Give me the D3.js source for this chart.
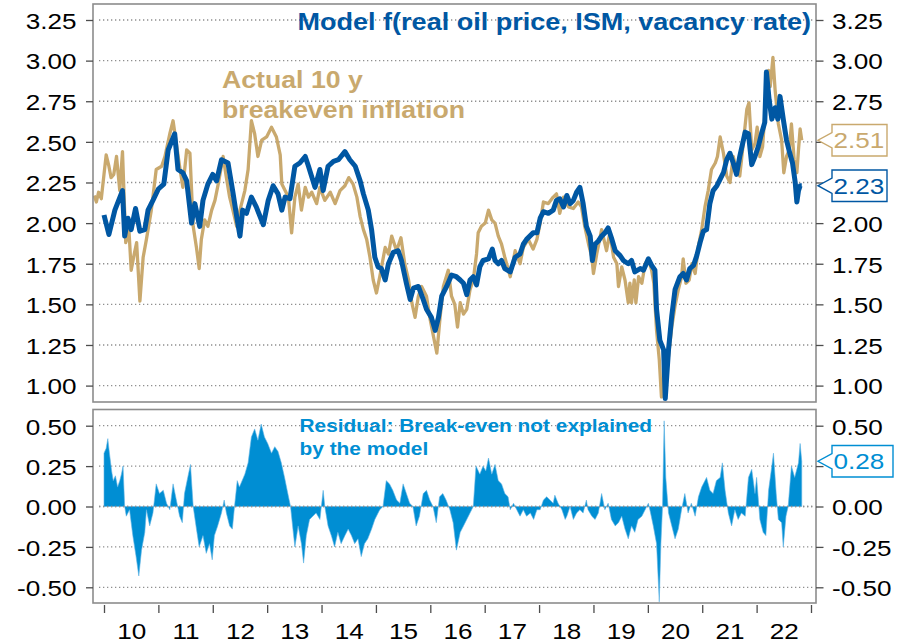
<!DOCTYPE html>
<html>
<head>
<meta charset="utf-8">
<script src="https://cdn.jsdelivr.net/npm/d3@7"></script>
<style>
  html, body { margin: 0; padding: 0; background: #fff; }
  svg { display: block; }
</style>
</head>
<body>
<svg id="chart" width="912" height="643"></svg>
<script>
// ---- Data: [decimal year, value] ----
const breakeven = [
  [2009.82,2.17],[2009.86,2.13],[2009.90,2.19],[2009.95,2.15],[2010.00,2.30],[2010.04,2.42],[2010.09,2.35],
  [2010.13,2.28],[2010.18,2.30],[2010.23,2.41],[2010.29,2.20],[2010.34,2.44],[2010.40,1.88],[2010.46,1.95],
  [2010.50,1.71],[2010.55,1.80],[2010.60,1.88],[2010.66,1.52],[2010.72,1.79],[2010.78,1.90],[2010.87,2.08],
  [2010.96,2.33],[2011.06,2.35],[2011.12,2.41],[2011.21,2.55],[2011.27,2.63],[2011.33,2.49],[2011.39,2.35],
  [2011.45,2.22],[2011.52,2.45],[2011.58,2.43],[2011.64,1.98],[2011.70,1.85],[2011.75,1.72],[2011.79,1.90],
  [2011.85,2.02],[2011.91,1.98],[2011.98,2.08],[2012.04,2.14],[2012.10,2.24],[2012.19,2.41],[2012.25,2.28],
  [2012.31,2.16],[2012.37,2.08],[2012.44,1.98],[2012.50,2.08],[2012.59,2.20],[2012.65,2.33],[2012.71,2.63],
  [2012.77,2.55],[2012.83,2.41],[2012.90,2.51],[2012.99,2.53],[2013.08,2.59],[2013.17,2.53],[2013.24,2.42],
  [2013.27,2.24],[2013.33,2.20],[2013.39,2.16],[2013.45,1.94],[2013.51,2.16],[2013.57,2.24],[2013.63,2.08],
  [2013.70,2.22],[2013.76,2.16],[2013.82,2.19],[2013.91,2.12],[2013.97,2.22],[2014.06,2.14],[2014.16,2.19],
  [2014.25,2.12],[2014.34,2.20],[2014.43,2.23],[2014.50,2.28],[2014.58,2.24],[2014.65,2.16],[2014.71,2.04],
  [2014.77,1.96],[2014.83,1.90],[2014.89,1.79],[2014.95,1.65],[2015.01,1.57],[2015.07,1.67],[2015.17,1.85],
  [2015.23,1.81],[2015.29,1.92],[2015.38,1.83],[2015.46,1.91],[2015.53,1.75],[2015.60,1.65],[2015.66,1.51],
  [2015.72,1.42],[2015.78,1.55],[2015.84,1.61],[2015.93,1.55],[2015.99,1.42],[2016.06,1.30],[2016.12,1.20],
  [2016.18,1.42],[2016.24,1.61],[2016.33,1.71],[2016.39,1.55],[2016.45,1.50],[2016.50,1.36],[2016.55,1.51],
  [2016.61,1.44],[2016.67,1.47],[2016.73,1.59],[2016.79,1.65],[2016.85,1.81],[2016.88,1.94],[2016.94,1.98],
  [2017.01,2.00],[2017.07,2.08],[2017.13,2.02],[2017.19,2.00],[2017.25,1.92],[2017.31,1.87],[2017.37,1.79],
  [2017.47,1.67],[2017.56,1.83],[2017.65,1.75],[2017.71,1.85],[2017.80,1.90],[2017.89,1.84],[2017.96,1.90],
  [2018.02,2.00],[2018.08,2.13],[2018.17,2.12],[2018.26,2.16],[2018.32,2.18],[2018.38,2.06],[2018.45,2.16],
  [2018.54,2.10],[2018.63,2.09],[2018.72,2.13],[2018.78,2.10],[2018.84,1.98],[2018.91,1.87],[2018.97,1.79],
  [2019.00,1.69],[2019.06,1.81],[2019.15,1.96],[2019.24,1.83],[2019.30,1.94],[2019.37,1.79],[2019.43,1.75],
  [2019.46,1.61],[2019.52,1.73],[2019.58,1.65],[2019.64,1.51],[2019.67,1.63],[2019.70,1.51],[2019.75,1.65],
  [2019.78,1.51],[2019.83,1.67],[2019.89,1.63],[2019.95,1.75],[2020.01,1.78],[2020.07,1.71],[2020.11,1.63],
  [2020.16,1.34],[2020.21,1.16],[2020.25,0.93],[2020.32,1.10],[2020.38,1.18],[2020.44,1.36],[2020.50,1.49],
  [2020.56,1.59],[2020.62,1.67],[2020.65,1.78],[2020.70,1.63],[2020.76,1.65],[2020.81,1.75],[2020.87,1.69],
  [2020.93,1.86],[2020.99,1.96],[2021.05,2.10],[2021.11,2.20],[2021.17,2.33],[2021.24,2.37],[2021.28,2.41],
  [2021.33,2.53],[2021.39,2.43],[2021.45,2.29],[2021.51,2.25],[2021.57,2.41],[2021.63,2.33],[2021.69,2.29],
  [2021.76,2.51],[2021.82,2.70],[2021.86,2.74],[2021.91,2.45],[2021.97,2.49],[2022.01,2.59],[2022.06,2.41],
  [2022.11,2.47],[2022.15,2.66],[2022.22,2.94],[2022.25,2.84],[2022.30,3.02],[2022.34,2.82],[2022.40,2.61],
  [2022.46,2.51],[2022.50,2.31],[2022.55,2.41],[2022.60,2.45],[2022.64,2.61],[2022.69,2.39],[2022.74,2.31],
  [2022.77,2.45],[2022.80,2.58],[2022.83,2.51]
];

const model = [
  [2010.00,2.05],[2010.09,1.93],[2010.20,2.08],[2010.34,2.20],[2010.38,1.92],[2010.44,2.03],[2010.50,1.96],
  [2010.58,2.09],[2010.66,1.95],[2010.75,1.96],[2010.81,2.08],[2010.90,2.14],[2011.00,2.21],[2011.10,2.24],
  [2011.18,2.45],[2011.30,2.55],[2011.36,2.33],[2011.45,2.31],[2011.52,2.26],[2011.61,2.00],[2011.67,2.12],
  [2011.76,1.98],[2011.82,2.14],[2011.91,2.24],[2012.00,2.30],[2012.07,2.26],[2012.16,2.39],[2012.28,2.37],
  [2012.37,2.19],[2012.44,2.04],[2012.50,1.92],[2012.55,2.08],[2012.62,2.06],[2012.71,2.16],[2012.80,2.10],
  [2012.93,1.99],[2013.02,2.14],[2013.11,2.23],[2013.20,2.18],[2013.27,2.08],[2013.33,2.16],[2013.42,2.15],
  [2013.51,2.35],[2013.60,2.37],[2013.70,2.41],[2013.76,2.35],[2013.88,2.22],[2013.97,2.33],[2014.03,2.20],
  [2014.12,2.35],[2014.22,2.38],[2014.31,2.39],[2014.43,2.44],[2014.52,2.39],[2014.62,2.35],[2014.71,2.26],
  [2014.77,2.18],[2014.86,2.08],[2014.92,1.96],[2014.98,1.79],[2015.04,1.73],[2015.10,1.72],[2015.17,1.65],
  [2015.23,1.75],[2015.32,1.82],[2015.41,1.83],[2015.47,1.77],[2015.56,1.63],[2015.63,1.53],[2015.69,1.60],
  [2015.78,1.61],[2015.87,1.53],[2015.93,1.47],[2016.02,1.42],[2016.09,1.34],[2016.15,1.42],[2016.21,1.55],
  [2016.30,1.61],[2016.39,1.68],[2016.48,1.67],[2016.55,1.65],[2016.61,1.63],[2016.67,1.56],[2016.73,1.65],
  [2016.79,1.67],[2016.85,1.62],[2016.91,1.73],[2016.97,1.77],[2017.07,1.78],[2017.14,1.84],[2017.19,1.77],
  [2017.25,1.75],[2017.31,1.77],[2017.37,1.72],[2017.47,1.70],[2017.56,1.79],[2017.65,1.81],[2017.71,1.87],
  [2017.77,1.90],[2017.83,1.92],[2017.89,1.94],[2017.96,1.94],[2018.02,2.03],[2018.08,2.07],[2018.17,2.06],
  [2018.26,2.08],[2018.32,2.14],[2018.38,2.15],[2018.45,2.10],[2018.51,2.17],[2018.57,2.12],[2018.63,2.14],
  [2018.69,2.19],[2018.75,2.22],[2018.81,2.12],[2018.87,1.98],[2018.94,1.92],[2018.98,1.77],[2019.03,1.87],
  [2019.09,1.89],[2019.15,1.92],[2019.21,1.94],[2019.27,1.97],[2019.33,1.91],[2019.40,1.83],[2019.49,1.80],
  [2019.55,1.77],[2019.64,1.75],[2019.70,1.77],[2019.76,1.70],[2019.86,1.72],[2019.92,1.71],[2020.01,1.78],
  [2020.07,1.74],[2020.13,1.71],[2020.16,1.47],[2020.22,1.28],[2020.29,1.22],[2020.32,0.92],[2020.38,1.22],
  [2020.44,1.43],[2020.50,1.59],[2020.59,1.67],[2020.65,1.69],[2020.71,1.65],[2020.77,1.72],[2020.84,1.74],
  [2020.90,1.80],[2020.96,1.88],[2021.02,1.95],[2021.08,1.96],[2021.14,2.12],[2021.20,2.20],[2021.27,2.23],
  [2021.33,2.27],[2021.39,2.31],[2021.45,2.39],[2021.51,2.43],[2021.57,2.37],[2021.63,2.30],[2021.69,2.41],
  [2021.79,2.56],[2021.85,2.55],[2021.91,2.36],[2021.97,2.41],[2022.03,2.47],[2022.09,2.55],[2022.15,2.62],
  [2022.18,2.93],[2022.23,2.76],[2022.28,2.64],[2022.34,2.71],[2022.39,2.64],[2022.43,2.78],[2022.49,2.64],
  [2022.55,2.51],[2022.61,2.43],[2022.66,2.37],[2022.71,2.25],[2022.74,2.13],[2022.77,2.20],[2022.80,2.23],
  [2022.83,2.23]
];

const residual = [
  [2010.00,0.33],[2010.04,0.36],[2010.07,0.42],[2010.10,0.33],[2010.14,0.22],[2010.17,0.16],[2010.21,0.19],
  [2010.25,0.12],[2010.29,0.16],[2010.32,0.20],[2010.35,0.25],[2010.38,0.00],[2010.41,-0.06],[2010.47,-0.02],
  [2010.53,-0.18],[2010.59,-0.31],[2010.64,-0.43],[2010.69,-0.27],[2010.75,-0.16],[2010.78,-0.02],[2010.84,-0.12],
  [2010.90,-0.04],[2010.96,0.14],[2011.02,0.08],[2011.09,0.10],[2011.15,0.02],[2011.21,-0.02],[2011.27,0.14],
  [2011.33,0.04],[2011.39,-0.06],[2011.44,-0.10],[2011.48,0.08],[2011.54,0.18],[2011.59,0.26],[2011.64,0.00],
  [2011.70,-0.14],[2011.75,-0.25],[2011.82,-0.18],[2011.88,-0.29],[2011.94,-0.23],[2011.99,-0.33],[2012.03,-0.18],
  [2012.09,-0.12],[2012.16,-0.04],[2012.21,0.04],[2012.25,-0.04],[2012.31,-0.12],[2012.36,-0.14],[2012.40,0.00],
  [2012.45,0.16],[2012.49,0.12],[2012.59,0.20],[2012.65,0.27],[2012.71,0.43],[2012.77,0.48],[2012.83,0.41],
  [2012.89,0.51],[2012.95,0.43],[2013.01,0.39],[2013.08,0.33],[2013.14,0.37],[2013.20,0.34],[2013.26,0.27],
  [2013.32,0.18],[2013.38,0.08],[2013.43,0.00],[2013.48,-0.16],[2013.51,-0.25],[2013.57,-0.12],[2013.63,-0.23],
  [2013.67,-0.35],[2013.72,-0.18],[2013.78,-0.08],[2013.84,-0.06],[2013.90,-0.04],[2013.97,-0.08],[2014.03,0.10],
  [2014.06,0.00],[2014.12,-0.12],[2014.18,-0.18],[2014.24,-0.25],[2014.30,-0.16],[2014.36,-0.23],[2014.43,-0.18],
  [2014.49,-0.14],[2014.55,-0.18],[2014.61,-0.23],[2014.67,-0.20],[2014.73,-0.31],[2014.79,-0.23],[2014.85,-0.20],
  [2014.92,-0.14],[2014.98,-0.08],[2015.07,-0.02],[2015.13,0.00],[2015.19,0.16],[2015.25,0.14],[2015.31,0.10],
  [2015.38,0.04],[2015.44,0.02],[2015.50,0.14],[2015.56,0.08],[2015.62,0.02],[2015.68,0.00],[2015.74,-0.12],
  [2015.80,-0.06],[2015.87,0.08],[2015.93,0.10],[2015.99,0.04],[2016.05,0.00],[2016.11,-0.10],[2016.17,0.06],
  [2016.23,0.08],[2016.29,0.04],[2016.36,-0.02],[2016.42,-0.10],[2016.48,-0.27],[2016.55,-0.16],[2016.61,-0.12],
  [2016.67,-0.08],[2016.73,-0.04],[2016.79,0.00],[2016.84,0.25],[2016.91,0.20],[2016.97,0.25],[2017.02,0.22],
  [2017.07,0.30],[2017.13,0.20],[2017.19,0.26],[2017.25,0.16],[2017.31,0.14],[2017.37,0.08],[2017.43,0.06],
  [2017.47,-0.02],[2017.53,0.02],[2017.59,-0.02],[2017.65,-0.06],[2017.71,-0.02],[2017.77,-0.06],[2017.84,-0.04],
  [2017.90,-0.08],[2017.96,-0.02],[2018.02,-0.02],[2018.08,0.04],[2018.14,0.06],[2018.20,0.04],[2018.26,0.02],
  [2018.29,0.07],[2018.35,0.02],[2018.42,-0.02],[2018.48,-0.08],[2018.51,-0.06],[2018.57,0.00],[2018.63,-0.08],
  [2018.69,-0.04],[2018.75,-0.02],[2018.81,-0.04],[2018.87,0.04],[2018.90,-0.02],[2018.97,-0.06],[2019.03,-0.08],
  [2019.09,-0.04],[2019.15,0.08],[2019.21,-0.02],[2019.27,0.02],[2019.33,-0.08],[2019.40,-0.12],[2019.46,-0.10],
  [2019.52,-0.06],[2019.58,-0.14],[2019.64,-0.20],[2019.70,-0.12],[2019.76,-0.16],[2019.82,-0.08],[2019.89,-0.06],
  [2019.95,-0.02],[2020.01,0.02],[2020.05,-0.04],[2020.10,-0.12],[2020.16,-0.23],[2020.21,-0.59],[2020.24,-0.23],
  [2020.27,0.00],[2020.30,0.53],[2020.33,0.18],[2020.38,-0.04],[2020.44,-0.12],[2020.50,-0.20],[2020.56,-0.14],
  [2020.62,-0.02],[2020.68,0.08],[2020.74,-0.04],[2020.80,0.02],[2020.87,-0.06],[2020.93,0.06],[2020.99,0.12],
  [2021.08,0.18],[2021.14,0.10],[2021.20,0.08],[2021.26,0.16],[2021.33,0.18],[2021.37,0.27],[2021.42,0.10],
  [2021.48,-0.04],[2021.54,-0.12],[2021.60,-0.02],[2021.66,-0.08],[2021.72,-0.04],[2021.79,-0.06],[2021.85,0.18],
  [2021.91,0.23],[2021.97,0.08],[2022.00,0.18],[2022.06,-0.08],[2022.12,-0.16],[2022.17,-0.18],[2022.22,0.10],
  [2022.28,0.25],[2022.31,0.33],[2022.36,0.08],[2022.40,-0.08],[2022.46,-0.10],[2022.49,-0.25],[2022.54,-0.06],
  [2022.58,0.00],[2022.64,0.25],[2022.70,0.18],[2022.77,0.27],[2022.80,0.39],[2022.83,0.28]
];

const levelTicks = [1.00, 1.25, 1.50, 1.75, 2.00, 2.25, 2.50, 2.75, 3.00, 3.25];
const residualTicks = [-0.50, -0.25, 0.00, 0.25, 0.50];
const yearTicks = [2010, 2011, 2012, 2013, 2014, 2015, 2016, 2017, 2018, 2019, 2020, 2021, 2022, 2023];
const yearLabels = ["10", "11", "12", "13", "14", "15", "16", "17", "18", "19", "20", "21", "22"];

const titleModel = "Model f(real oil price, ISM, vacancy rate)";
const titleActual = ["Actual 10 y", "breakeven inflation"];
const titleResidual = ["Residual: Break-even not explained", "by the model"];

// ---- Styling ----
const FONT = "'Liberation Sans', Arial, Helvetica, sans-serif";
const SX = 1.16;                       // horizontal glyph stretch
const C_MODEL = "#0057a3";
const C_ACTUAL = "#c9a96e";
const C_RESID = "#008ed3";
const C_FRAME = "#8c8c8c";
const C_GRID = "#8f8f8f";

const svg = d3.select("#chart").attr("font-family", FONT);
svg.append("rect").attr("width", 912).attr("height", 643).attr("fill", "#fff");

// ---- Layout ----
const left = 93, right = 816;
const topPanel = { y0: 4, y1: 402 };
const botPanel = { y0: 409.5, y1: 603 };

const x = d3.scaleLinear().domain([2010, 2023]).range([104, 811]);
const yTop = d3.scaleLinear().domain([1.00, 3.25]).range([385.6, 20]);
const yBot = d3.scaleLinear().domain([-0.5, 0.5]).range([587.3, 425.7]);

const fmt = d => (d < 0 ? "-" : "") + Math.abs(d).toFixed(2);

function stretchedText(parent, px, py, str, o) {
  return parent.append("text")
    .attr("transform", `translate(${px},${py}) scale(${SX},1)`)
    .attr("text-anchor", o.anchor || "start")
    .attr("font-size", o.size)
    .attr("font-weight", o.weight || "normal")
    .attr("fill", o.color || "#000")
    .text(str);
}

// clip paths for the two panels
const defs = svg.append("defs");
defs.append("clipPath").attr("id", "clipTop").append("rect")
  .attr("x", left).attr("y", topPanel.y0).attr("width", right - left).attr("height", topPanel.y1 - topPanel.y0);
defs.append("clipPath").attr("id", "clipBot").append("rect")
  .attr("x", left).attr("y", botPanel.y0).attr("width", right - left).attr("height", botPanel.y1 - botPanel.y0);

// ---- Grid lines ----
function grid(scale, ticks) {
  svg.append("g").selectAll("line").data(ticks).join("line")
    .attr("x1", left + 6).attr("x2", right - 2)
    .attr("y1", d => scale(d)).attr("y2", d => scale(d))
    .attr("stroke", C_GRID).attr("stroke-width", 1.3)
    .attr("stroke-dasharray", "1.3,2.7");
}
grid(yTop, levelTicks);
grid(yBot, residualTicks);

// ---- Top panel lines ----
const line = d3.line().x(d => x(d[0])).y(d => yTop(d[1])).curve(d3.curveLinear);
const gTop = svg.append("g").attr("clip-path", "url(#clipTop)");
gTop.append("path").datum(breakeven).attr("d", line)
  .attr("fill", "none").attr("stroke", C_ACTUAL).attr("stroke-width", 3.3)
  .attr("stroke-linejoin", "round");
gTop.append("path").datum(model).attr("d", line)
  .attr("fill", "none").attr("stroke", C_MODEL).attr("stroke-width", 5)
  .attr("stroke-linejoin", "round");

// ---- Residual area ----
const area = d3.area().x(d => x(d[0])).y0(yBot(0)).y1(d => yBot(d[1]));
const gBot = svg.append("g").attr("clip-path", "url(#clipBot)");
gBot.append("path").datum(residual).attr("d", area)
  .attr("fill", C_RESID).attr("stroke", "#5fb4e4").attr("stroke-width", 0.6);
// zero line dots stay visible over the area
svg.append("line").attr("x1", left + 6).attr("x2", right - 2)
  .attr("y1", yBot(0)).attr("y2", yBot(0))
  .attr("stroke", C_GRID).attr("stroke-width", 1.3).attr("stroke-dasharray", "1.3,2.7");

// ---- Panel frames ----
[topPanel, botPanel].forEach(p => {
  svg.append("rect").attr("x", left).attr("y", p.y0)
    .attr("width", right - left).attr("height", p.y1 - p.y0)
    .attr("fill", "none").attr("stroke", C_FRAME).attr("stroke-width", 1.6);
});

// ---- Last values shown in callouts on the right axis ----
const lastActual = breakeven[breakeven.length - 1][1];
const lastModel = model[model.length - 1][1];
const lastResid = residual[residual.length - 1][1];
const callouts = [
  { y: yTop(lastActual), v: lastActual, color: C_ACTUAL, w: 55 },
  { y: yTop(lastModel), v: lastModel, color: C_MODEL, w: 55 },
  { y: yBot(lastResid), v: lastResid, color: C_RESID, w: 61 }
];
const underCallout = yPos => callouts.some(c => Math.abs(c.y - yPos) < 16);

// ---- Axes ----
function styleAxis(g, textX, anchor) {
  g.attr("font-family", FONT).attr("font-size", 22.5);
  g.select(".domain").remove();
  g.selectAll(".tick line").attr("stroke", "#4d4d4d").attr("stroke-width", 1.3);
  g.selectAll(".tick text")
    .attr("x", textX / SX).attr("dy", "0.37em")
    .attr("text-anchor", anchor)
    .attr("transform", `scale(${SX},1)`)
    .attr("fill", "#000");
  return g;
}
function rightAxis(scale, ticks) {
  const g = styleAxis(svg.append("g").attr("transform", `translate(${right},0)`)
    .call(d3.axisRight(scale).tickValues(ticks).tickSize(7.5).tickFormat(fmt)), 16, "start");
  // labels hidden behind a callout box are left out
  g.selectAll(".tick text").filter(d => underCallout(scale(d))).remove();
}
styleAxis(svg.append("g").attr("transform", `translate(${left},0)`)
  .call(d3.axisLeft(yTop).tickValues(levelTicks).tickSize(7).tickFormat(fmt)), -16.5, "end");
styleAxis(svg.append("g").attr("transform", `translate(${left},0)`)
  .call(d3.axisLeft(yBot).tickValues(residualTicks).tickSize(7).tickFormat(fmt)), -16.5, "end");
rightAxis(yTop, levelTicks);
rightAxis(yBot, residualTicks);

// year boundary ticks
const xTicks = svg.append("g").attr("transform", "translate(0,605)")
  .call(d3.axisBottom(x).tickValues(yearTicks).tickSize(8).tickFormat(""));
xTicks.select(".domain").remove();
xTicks.selectAll(".tick line").attr("stroke", "#4d4d4d").attr("stroke-width", 1.3);

// year labels centred within each year
const midYears = yearTicks.slice(0, -1).map(v => v + 0.5);
const xLabels = svg.append("g").attr("transform", "translate(0,605)")
  .call(d3.axisBottom(x).tickValues(midYears).tickSize(0).tickFormat((d, i) => yearLabels[i]));
xLabels.attr("font-family", FONT).attr("font-size", 22.5);
xLabels.select(".domain").remove();
xLabels.selectAll(".tick text").attr("y", 34.3).attr("dy", null)
  .attr("transform", `scale(${SX},1)`).attr("fill", "#000");

// ---- Series titles ----
stretchedText(svg, 811, 29.5, titleModel, { anchor: "end", size: 23.3, weight: "bold", color: C_MODEL });
titleActual.forEach((t, i) =>
  stretchedText(svg, 222, 88.3 + i * 30, t, { size: 23, weight: "bold", color: C_ACTUAL }));
titleResidual.forEach((t, i) =>
  stretchedText(svg, 299.5, 431.7 + i * 23.3, t, { size: 18, weight: "bold", color: C_RESID }));

// ---- Callout boxes ----
callouts.forEach(c => {
  const bx = 832, tip = 818, h = 15.8, notch = 7.6;
  const g = svg.append("g");
  g.append("path")
    .attr("d", `M${bx},${c.y - h}H${bx + c.w}V${c.y + h}H${bx}V${c.y + notch}L${tip},${c.y}L${bx},${c.y - notch}Z`)
    .attr("fill", "#fff").attr("stroke", c.color).attr("stroke-width", 1.4);
  stretchedText(g, bx + 1.5, c.y + 8.1, c.v.toFixed(2), { size: 22.5, color: c.color });
});
</script>
</body>
</html>
